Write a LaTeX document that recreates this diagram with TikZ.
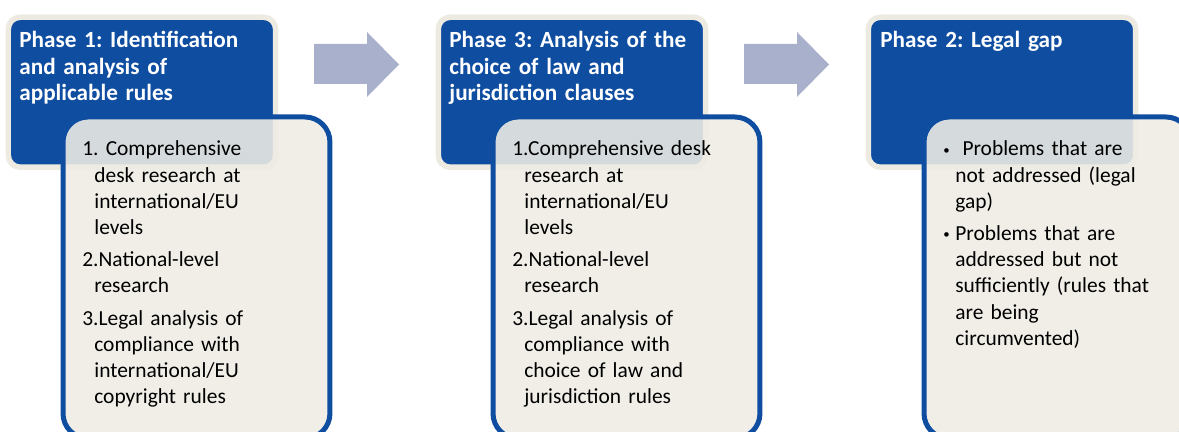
\documentclass[tikz,border=0pt]{standalone}
\usepackage{fontspec}
\setmainfont{Carlito}
\usetikzlibrary{positioning}
\definecolor{phaseblue}{HTML}{0F4DA1}
\definecolor{rimbeige}{HTML}{EDEBE1}
\definecolor{notefill}{HTML}{EEECE4}
\definecolor{arrowgrey}{HTML}{A9B0CC}
\newcommand{\dotmark}{\makebox[0.24cm][l]{\raisebox{0.04cm}{\scalebox{0.6}{•}}}}
\tikzset{
    head/.style={draw=rimbeige,fill=phaseblue,line width=0.11cm,rounded corners=0.24cm,
        minimum width=5.35cm,minimum height=3cm,anchor=north west,inner sep=0pt},
    title/.style={text=white,font=\bfseries\fontsize{13.2}{14.9}\selectfont,
        align=left,text width=6cm,anchor=base west,inner sep=0pt,
        execute at begin node={\frenchspacing}},
    note/.style={draw=phaseblue,fill=notefill,fill opacity=0.89,line width=0.1cm,
        rounded corners=0.5cm,minimum width=5.34cm,minimum height=6.43cm,
        anchor=north west,inner sep=0pt},
    items/.style={font=\fontsize{12.2}{14.9}\selectfont,align=left,text width=6cm,
        anchor=base west,inner sep=0pt,
        execute at begin node={\frenchspacing\setlength{\parskip}{0.12cm}\leftskip=0.24cm}},
    flow/.style={fill=arrowgrey}
}
\begin{document}
\begin{tikzpicture}[x=0.02cm,y=-0.02cm]
                \useasboundingbox (0,0) rectangle (1179,432);
                \clip (0,0) rectangle (1179,432);
                % phase boxes
                \node[head] (head1) at (5.5,14.5) {};
                \node[head] (head2) at (435.5,14.5) {};
                \node[head] (head3) at (865.5,14.5) {};
                \node[note] (note1) at (60.5,114.5) {};
                \node[note] (note2) at (490.5,114.5) {};
                \node[note] (note3) at (921.5,114.5) {};
                % arrows between phases
                \foreach \dx in {0,430}{
                    \fill[flow] (314+\dx,44) -- (367+\dx,44) -- (367+\dx,32) -- (399+\dx,64.5)
                        -- (367+\dx,97) -- (367+\dx,84) -- (314+\dx,84) -- cycle;
                }
                % titles
                \node[title] (title1) at (19,48) {Phase 1: Identification\\and analysis of\\applicable rules};
                \node[title] (title2) at (449,48) {Phase 3: Analysis of the\\choice of law and\\jurisdiction clauses};
                \node[title] (title3) at (880,48) {Phase 2: Legal gap};
                % lists
                \node[items] (items1) at (82,156) {%
                    \hspace*{-0.24cm}1. Comprehensive\\desk research at\\international/EU\\levels\par
                    \hspace*{-0.24cm}2.National-level\\research\par
                    \hspace*{-0.24cm}3.Legal analysis of\\compliance with\\international/EU\\copyright rules\par};
                \node[items] (items2) at (512,156) {%
                    \hspace*{-0.24cm}1.Comprehensive desk\\research at\\international/EU\\levels\par
                    \hspace*{-0.24cm}2.National-level\\research\par
                    \hspace*{-0.24cm}3.Legal analysis of\\compliance with\\choice of law and\\jurisdiction rules\par};
                \node[items] (items3) at (943,156) {%
                    \hspace*{-0.24cm}\dotmark\ Problems that are\\not addressed (legal\\gap)\par
                    \hspace*{-0.24cm}\dotmark Problems that are\\addressed but not\\sufficiently (rules that\\are being\\circumvented)\par};
            \end{tikzpicture}
\end{document}
